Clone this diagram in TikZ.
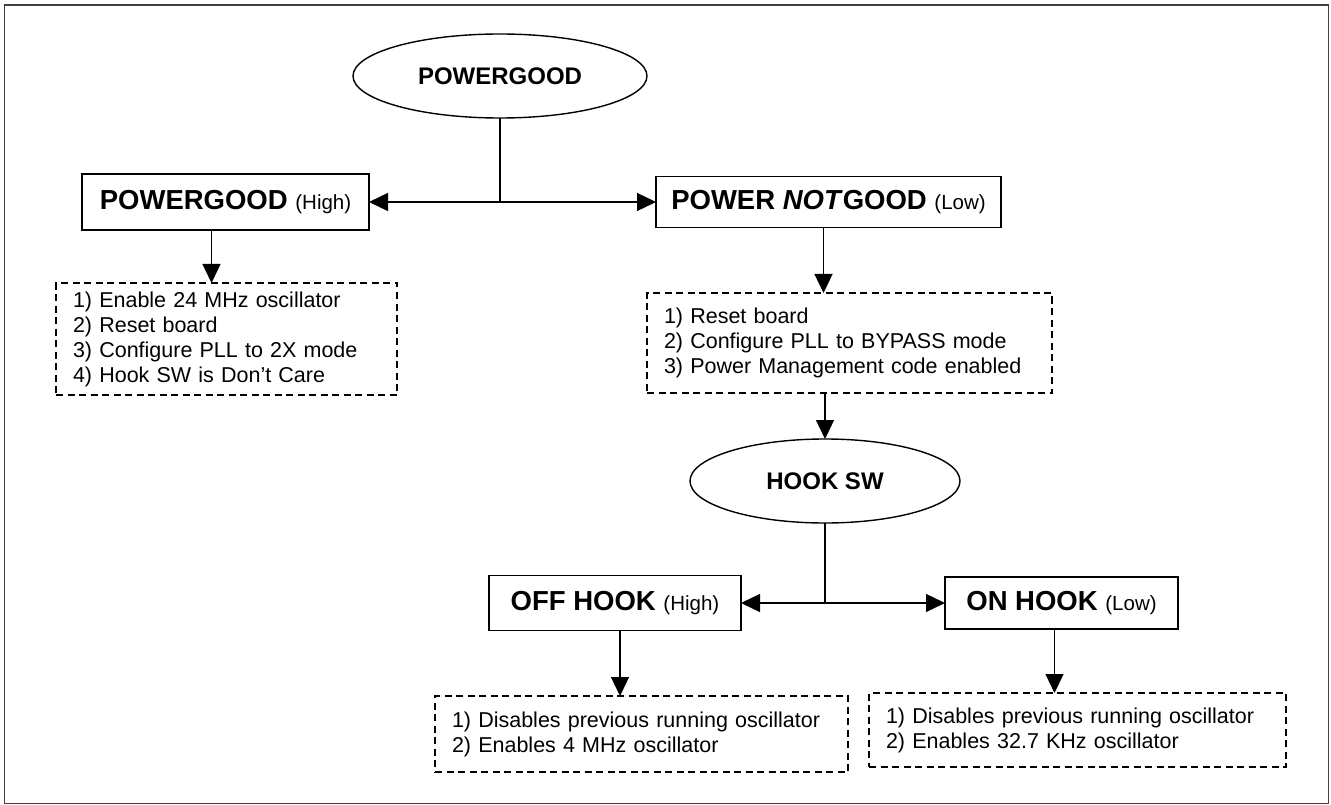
\documentclass[tikz,border=0pt]{standalone}
\usepackage{fontspec}
\setmainfont{Liberation Sans}
\usetikzlibrary{arrows.meta}
\usetikzlibrary{shapes.geometric}

\newcommand{\lvlnote}[1]{{\fontsize{20.5}{24}\selectfont\mdseries (#1)}}

\begin{document}
\begin{tikzpicture}[
            x = 1pt, y = -1pt, % pixel grid
            > = {Triangle[length=19pt,width=18pt]}, % arrow head style
            line width = 1.3pt,
            cond/.style = {ellipse, draw, line width=1.4pt, inner sep=0pt, outer sep=0pt,
                           font=\fontsize{24}{28}\selectfont\bfseries},
            lvl/.style = {rectangle, draw, line width=1.5pt, inner sep=0pt, outer sep=0pt,
                          font=\fontsize{27.5}{30}\selectfont\bfseries},
            task/.style = {rectangle, draw, line width=1.9pt, dash pattern=on 7pt off 4.5pt,
                           inner xsep=17pt, inner ysep=0pt, outer sep=0pt, align=left,
                           font=\fontsize{21.5}{25}\selectfont}
        ]

        \useasboundingbox (0,0) rectangle (1331,805);
        \draw[line width=1.3pt, black!75] (4.5,5) rectangle (1328.5,803.5);

        % top level
        \node[cond, minimum width=294pt, minimum height=84pt] (PG) at (500,76) {POWERGOOD};

        \node[lvl, minimum width=287pt, minimum height=56pt] (PGH) at (225.5,202) {POWERGOOD \lvlnote{High}};
        \node[lvl, minimum width=345pt, minimum height=51pt] (PNG) at (828.5,202) {POWER \textit{NOT}GOOD \lvlnote{Low}};

        \node[task, text width=307pt, minimum height=112pt] (PGL) at (226.5,339) {1) Enable 24 MHz oscillator\\2) Reset board\\3) Configure PLL to 2X mode\\4) Hook SW is Don’t Care};
        \node[task, text width=371pt, minimum height=100pt] (PNL) at (849.5,343) {1) Reset board\\2) Configure PLL to BYPASS mode\\3) Power Management code enabled};

        % hook switch
        \node[cond, minimum width=270pt, minimum height=84pt] (HK) at (825,481) {HOOK SW};

        \node[lvl, minimum width=252pt, minimum height=55pt] (OFF) at (615,603) {OFF HOOK \lvlnote{High}};
        \node[lvl, minimum width=233pt, minimum height=52pt] (ON) at (1061.5,603) {ON HOOK \lvlnote{Low}};

        \node[task, text width=379pt, minimum height=76pt] (OFFL) at (641.5,734) {1) Disables previous running oscillator\\2) Enables 4 MHz oscillator};
        \node[task, text width=383pt, minimum height=74pt] (ONL) at (1077.5,730) {1) Disables previous running oscillator\\2) Enables 32.7 KHz oscillator};

        \coordinate (J1) at (PG.south |- PGH.east);
        \coordinate (J2) at (HK.south |- OFF.east);

        \draw (PG.south) -- (J1);
        \draw[->] (J1) -- (PGH.east);
        \draw[->] (J1) -- (PNG.west);
        \draw[->] ([xshift=-14pt]PGH.south) -- ([xshift=-14pt]PGH.south |- PGL.north);
        \draw[->] ([xshift=-5pt]PNG.south) -- ([xshift=-5pt]PNG.south |- PNL.north);
        \draw[->] (HK.north |- PNL.south) -- (HK.north);

        \draw (HK.south) -- (J2);
        \draw[->] (J2) -- (OFF.east);
        \draw[->] (J2) -- (ON.west);
        \draw[->] ([xshift=5pt]OFF.south) -- ([xshift=5pt]OFF.south |- OFFL.north);
        \draw[->] ([xshift=-7pt]ON.south) -- ([xshift=-7pt]ON.south |- ONL.north);

\end{tikzpicture}
\end{document}
